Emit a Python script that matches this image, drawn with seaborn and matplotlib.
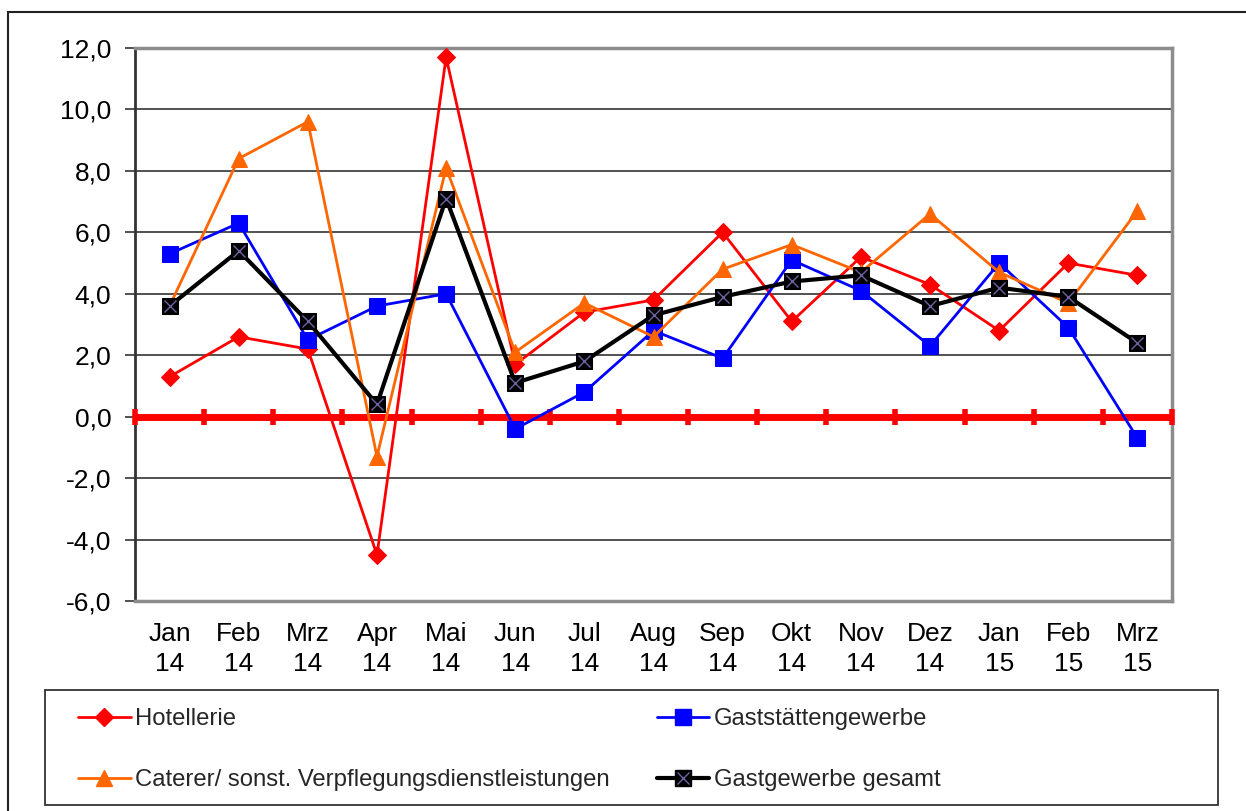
import numpy as np
import pandas as pd
import matplotlib
matplotlib.use("Agg")
import matplotlib.pyplot as plt
import seaborn as sns
from matplotlib.patches import Rectangle
from matplotlib.lines import Line2D

months = ["Jan\n14", "Feb\n14", "Mrz\n14", "Apr\n14", "Mai\n14", "Jun\n14", "Jul\n14",
          "Aug\n14", "Sep\n14", "Okt\n14", "Nov\n14", "Dez\n14", "Jan\n15", "Feb\n15", "Mrz\n15"]
hotellerie = [1.3, 2.6, 2.2, -4.5, 11.7, 1.7, 3.4, 3.8, 6.0, 3.1, 5.2, 4.3, 2.8, 5.0, 4.6]
gaststaetten = [5.3, 6.3, 2.5, 3.6, 4.0, -0.4, 0.8, 2.8, 1.9, 5.1, 4.1, 2.3, 5.0, 2.9, -0.7]
caterer = [3.6, 8.4, 9.6, -1.3, 8.1, 2.1, 3.7, 2.6, 4.8, 5.6, 4.7, 6.6, 4.7, 3.7, 6.7]
gesamt = [3.6, 5.4, 3.1, 0.4, 7.1, 1.1, 1.8, 3.3, 3.9, 4.4, 4.6, 3.6, 4.2, 3.9, 2.4]
labels = ["Hotellerie", "Gaststättengewerbe",
          "Caterer/ sonst. Verpflegungsdienstleistungen", "Gastgewerbe gesamt"]
yticks = [-6, -4, -2, 0, 2, 4, 6, 8, 10, 12]

sns.set_theme(style="white")
plt.rcParams['font.family'] = ['Liberation Sans', 'DejaVu Sans']

fig = plt.figure(figsize=(12.46, 8.11), dpi=100)
ax = fig.add_axes([135/1246, 1-601/811, (1172-135)/1246, (601-48)/811])

x = np.arange(len(months))
df = pd.DataFrame({"x": x, "h": hotellerie, "g": gaststaetten, "c": caterer, "t": gesamt})

XCOL = "#7060A0"
sns.lineplot(data=df, x="x", y="h", ax=ax, color="#FF0000", lw=2, marker="D",
             markersize=9, markeredgecolor="#FF0000", zorder=4)
sns.lineplot(data=df, x="x", y="g", ax=ax, color="#0000FF", lw=2, marker="s",
             markersize=11, markeredgecolor="#0000FF", zorder=5)
sns.lineplot(data=df, x="x", y="c", ax=ax, color="#FF6600", lw=2, marker="^",
             markersize=12, markeredgecolor="#FF6600", zorder=6)
sns.lineplot(data=df, x="x", y="t", ax=ax, color="#000000", lw=3, marker="s",
             markersize=11, markeredgecolor="#000000", zorder=7)
ax.plot(x, gesamt, lw=0, marker="x", markersize=9, markeredgewidth=1,
        color=XCOL, zorder=8)

# zero line with red category-boundary ticks
bounds = np.arange(len(months) + 1) - 0.5
ax.axhline(0, color="#FF0000", lw=5, zorder=3)
ax.plot(bounds, np.zeros_like(bounds), lw=0, marker="|", markersize=11,
        markeredgewidth=4, color="#FF0000", zorder=3, clip_on=False)

ax.set_xlim(-0.5, len(months) - 0.5)
ax.set_ylim(-6, 12)
ax.set_yticks(yticks)
ax.set_yticklabels([f"{v:.1f}".replace(".", ",") for v in yticks], fontsize=19)
ax.set_xticks(x)
ax.set_xticklabels(months, fontsize=19, linespacing=1.3)
ax.set_xlabel("")
ax.set_ylabel("")
ax.yaxis.grid(True, color="#333333", lw=1.2)
ax.xaxis.grid(False)
ax.set_axisbelow(True)
ax.tick_params(axis="y", which="both", left=True, length=7, width=1.2, color="#333333",
               pad=10, labelcolor="black")
ax.tick_params(axis="x", bottom=False, pad=9, labelcolor="black")
for side in ["top", "right", "bottom"]:
    ax.spines[side].set_color("#8C8C8C")
    ax.spines[side].set_linewidth(2.5)
ax.spines["left"].set_color("#333333")
ax.spines["left"].set_linewidth(2)

# outer frame (top/left visible)
fig.patches.append(Rectangle((8/1246, -0.2), 1.5, 1 - 12/811 + 0.2,
                             transform=fig.transFigure, fill=False,
                             edgecolor="#222222", lw=1.5))
# legend frame
fig.patches.append(Rectangle((45/1246, 1-805/811), (1218-45)/1246, 115/811,
                             transform=fig.transFigure, fill=False,
                             edgecolor="#333333", lw=1.3))

h_hot = Line2D([], [], color="#FF0000", lw=2, marker="D", markersize=9)
h_gas = Line2D([], [], color="#0000FF", lw=2, marker="s", markersize=11)
h_cat = Line2D([], [], color="#FF6600", lw=2, marker="^", markersize=12)
h_tot = (Line2D([], [], color="#000000", lw=3, marker="s", markersize=11),
         Line2D([], [], lw=0, marker="x", markersize=9, markeredgewidth=1, color=XCOL))
# column-major fill -> row order: Hotellerie, Gaststätten / Caterer, gesamt
leg = fig.legend([h_hot, h_cat, h_gas, h_tot],
                 [labels[0], labels[2], labels[1], labels[3]], loc="upper left",
                 bbox_to_anchor=(78/1246, 1-708/811),
                 ncol=2, fontsize=17.2, frameon=False, handlelength=2.2, handletextpad=0.2,
                 labelspacing=1.65, borderpad=0, borderaxespad=0, columnspacing=1.95)

fig.savefig("out.png", dpi=100)
